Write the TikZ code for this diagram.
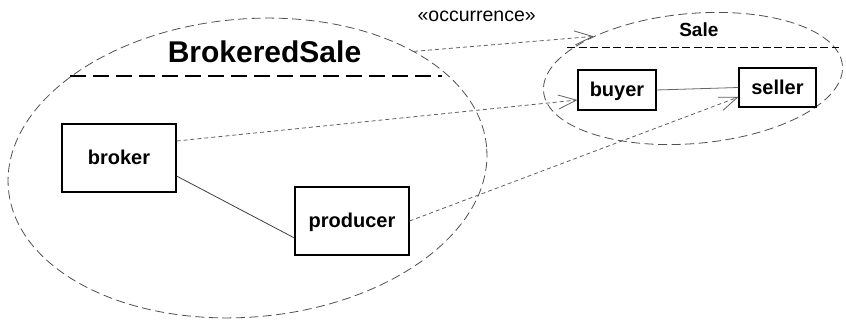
\documentclass[tikz,border=0pt]{standalone}
\usepackage{fontspec}
\setmainfont{Liberation Sans}
\usetikzlibrary{shapes.geometric,arrows.meta}
\definecolor{ringgray}{RGB}{80,80,80}
\definecolor{depgray}{RGB}{95,95,95}

\begin{document}
\begin{tikzpicture}[x=1pt,y=-1pt,
  part/.style={draw,line width=1.1pt,inner sep=0pt,text height=14pt,text depth=0pt,
    font=\fontsize{20}{24}\selectfont\bfseries},
  ring/.style={ellipse,draw=ringgray,line width=0.8pt,dash pattern=on 9pt off 4.5pt,
    inner sep=0pt,rotate=5},
  dep/.style={draw=depgray,line width=0.8pt,dash pattern=on 4pt off 3pt,
    -{Straight Barb[length=18pt,width=14pt]}},
  link/.style={draw=black!75,line width=0.8pt}]
  \useasboundingbox (0,0) rectangle (846,320);

  % 协作 BrokeredSale
  \node[ring,minimum width=480pt,minimum height=298pt] (brokeredsale) at (247.5,168) {};
  \node[anchor=base,font=\fontsize{30}{36}\selectfont\bfseries] (bigtitle) at (264.5,62.7) {BrokeredSale};
  \draw[line width=2.5pt,dash pattern=on 16pt off 7pt] (70,76) -- (442,76);

  % 协作 Sale
  \node[ring,minimum width=300pt,minimum height=130pt] (sale) at (693,78.5) {};
  \node[anchor=base,font=\fontsize{19}{23}\selectfont\bfseries] (saletitle) at (698.8,36.7) {Sale};
  \draw[line width=1pt,dash pattern=on 8pt off 3.5pt] (567,48) -- (839,48);

  % 角色
  \node[part,minimum width=114pt,minimum height=68pt] (broker) at (119,158) {broker};
  \node[part,minimum width=114pt,minimum height=68pt] (producer) at (352,221) {producer};
  \node[part,minimum width=78pt,minimum height=40pt] (buyer) at (617,90) {buyer};
  \node[part,minimum width=77pt,minimum height=39pt] (seller) at (777.5,87.5) {seller};

  % 连接
  \draw[link] ([yshift=-18pt]broker.east) -- ([yshift=-17pt]producer.west);
  \draw[link,draw=black!60] (buyer.east) -- (seller.west);

  % 依赖
  \draw[dep] (brokeredsale.30) -- (sale.152);
  \node[anchor=base,font=\fontsize{19.5}{23}\selectfont] (stereo) at (476.7,21.3) {«occurrence»};
  \draw[dep] ([yshift=17pt]broker.east) -- ([yshift=-10pt]buyer.west);
  \draw[dep] (producer.east) -- ([yshift=-9.5pt]seller.west);
\end{tikzpicture}
\end{document}
